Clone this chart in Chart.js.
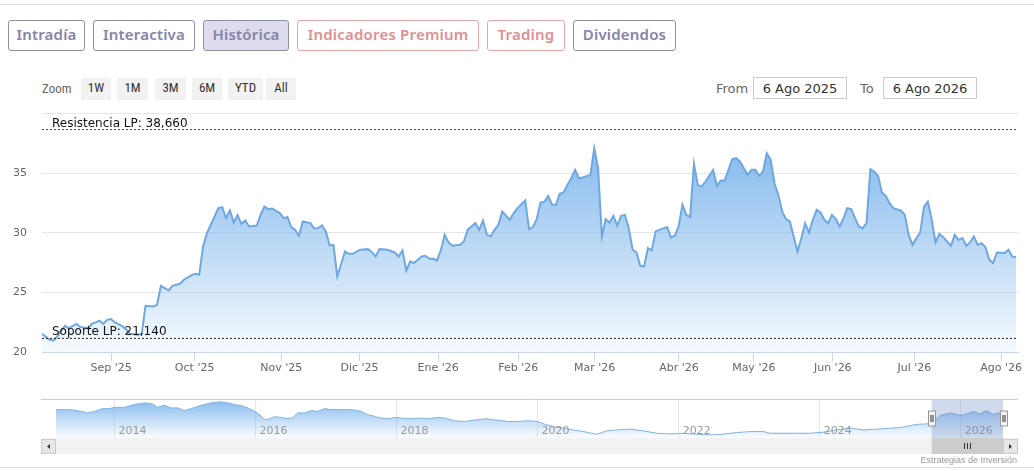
<!DOCTYPE html>
<html>
<head>
<meta charset="utf-8">
<title>Histórica</title>
<script src="https://cdn.jsdelivr.net/npm/chart.js@4.4.1/dist/chart.umd.min.js"></script>
<style>
  body { margin: 0; width: 1034px; height: 471px; position: relative; overflow: hidden; background: #fff; font-family: "DejaVu Sans", sans-serif; }
  .rule { position: absolute; left: 0; width: 1034px; height: 1px; background: #dcdcdc; }
  .tab { position: absolute; top: 20px; height: 26px; padding-top: 3px; line-height: 29px; border: 1px solid #8f8ea9; border-radius: 3px;
         font: 600 15px "Noto Sans", sans-serif; color: #8583a8; text-align: center; letter-spacing: 0.2px; overflow: hidden; }
  .tab.on { background: #dddcec; }
  .tab.premium { border-color: #e3a9a9; color: #e08f8f; }
  .zoomlbl { position: absolute; top: 80px; left: 42px; font: 13px "Liberation Sans Narrow", "Roboto Condensed", "DejaVu Sans Condensed", sans-serif; color: #666; line-height: 18px; }
  .zbtn { position: absolute; top: 78px; height: 20px; padding-top: 2px; line-height: 23px; background: #f2f2f2; text-align: center;
          font: 13px "Liberation Sans Narrow", "Roboto Condensed", "DejaVu Sans Condensed", sans-serif; color: #333; overflow: hidden; }
  .rlbl { position: absolute; top: 80px; font: 13px "DejaVu Sans", sans-serif; color: #666; line-height: 18px; }
  .rbox { position: absolute; top: 77px; width: 92px; height: 17px; padding-top: 3px; line-height: 22px; border: 1px solid #cccccc;
          text-align: center; font: 13px "DejaVu Sans", sans-serif; color: #333; overflow: hidden; }
  #mainWrap { position: absolute; left: 0; top: 92px; width: 1034px; height: 298px; }
  #navWrap { position: absolute; left: 0; top: 395px; width: 1034px; height: 63px; }
  .credit { position: absolute; right: 17px; top: 455px; font: 9px "Liberation Sans", sans-serif; color: #999; }
</style>
</head>
<body>
<div class="rule" style="top:4px"></div>

<div class="tab" style="left:8px;width:75px">Intradía</div>
<div class="tab" style="left:93px;width:100px">Interactiva</div>
<div class="tab on" style="left:203px;width:84px">Histórica</div>
<div class="tab premium" style="left:297px;width:180px">Indicadores Premium</div>
<div class="tab premium" style="left:487px;width:76px">Trading</div>
<div class="tab" style="left:573px;width:101px">Dividendos</div>

<div class="zoomlbl">Zoom</div>
<div class="zbtn" style="left:81px;width:30px">1W</div>
<div class="zbtn" style="left:117px;width:31px">1M</div>
<div class="zbtn" style="left:155px;width:31px">3M</div>
<div class="zbtn" style="left:192px;width:30px">6M</div>
<div class="zbtn" style="left:228px;width:35px">YTD</div>
<div class="zbtn" style="left:266px;width:30px">All</div>

<div class="rlbl" style="left:716px">From</div>
<div class="rbox" style="left:753px">6 Ago 2025</div>
<div class="rlbl" style="left:860px">To</div>
<div class="rbox" style="left:883px">6 Ago 2026</div>

<div id="mainWrap"><canvas id="priceChart" width="1034" height="298"></canvas></div>
<div id="navWrap"><canvas id="navChart" width="1034" height="63"></canvas></div>
<div class="credit">Estrategias de Inversión</div>
<div class="rule" style="top:467px"></div>

<script>
// daily closes, x = trading session since 6 Ago 2025
const sessions = [0, 2, 3, 4, 5, 6, 7, 9, 10, 12, 13, 14, 15, 16, 17, 18, 19, 21, 22, 23, 25, 26, 27, 29, 30,
  31, 32, 33, 34, 36, 37, 39, 40, 41, 42, 43, 44, 46, 47, 48, 49, 50, 51, 52, 53, 54, 56, 57, 58, 59, 60,
  62, 63, 64, 65, 66, 67, 68, 70, 71, 72, 73, 74, 75, 76, 77, 79, 80, 81, 83, 85, 86, 87, 88, 90,
  92, 93, 94, 95, 96, 97, 99, 100, 101, 102, 103, 104, 105, 106, 107, 109, 110, 111, 113, 114, 115, 116, 117, 118, 119, 120,
  122, 123, 124, 126, 127, 128, 129, 130, 131, 132, 133, 134, 135, 136, 137, 138, 139, 140, 141, 143, 144, 145,
  146, 147, 148, 149, 150, 151, 152, 153, 154, 155, 156, 157, 158, 159, 160, 161, 163, 164, 165, 166, 167, 168, 169,
  170, 171, 172, 173, 175, 176, 177, 178, 179, 180, 181, 182, 184, 185, 186, 187, 188, 189, 190,
  191, 192, 193, 194, 195, 196, 197, 198, 199, 200, 201, 202, 203, 204, 205, 206, 207, 208, 209, 210,
  211, 212, 213, 214, 215, 216, 217, 218, 219, 220, 221, 222, 224, 225, 226, 227, 228, 229, 230,
  231, 232, 233, 234, 235, 236, 237, 238, 239, 240, 241, 242, 243, 244, 245, 246, 247, 248, 249, 251, 252, 253, 254];
const prices = [21.53, 21.03, 20.97, 21.3, 21.8, 22.2, 22.0, 22.35, 22.1, 22.0, 22.37, 22.48, 22.62, 22.35, 22.7, 22.77, 22.48, 22.15, 21.87, 21.53, 21.45, 21.53, 23.88, 23.82, 23.96,
  25.55, 25.36, 25.16, 25.55, 25.72, 26.06, 26.45, 26.56, 26.48, 28.85, 29.97, 30.67, 32.07, 32.15, 31.23, 31.87, 30.86, 31.48, 30.75, 31.03, 30.53, 30.61, 31.5, 32.2, 31.99, 32.04,
  31.65, 31.23, 31.32, 30.48, 30.25, 29.75, 30.95, 30.81, 30.36, 30.39, 30.61, 30.11, 28.94, 28.99, 26.34, 28.43, 28.24, 28.24, 28.58, 28.63, 28.38, 28.01, 28.63, 28.58,
  28.35, 28.01, 28.52, 26.82, 27.6, 27.46, 28.01, 28.07, 27.82, 27.82, 27.68, 28.52, 29.83, 29.19, 28.91, 28.99, 29.27, 30.25, 30.81, 30.25, 31.03, 29.83, 29.69, 30.25, 30.67, 31.79,
  31.09, 31.65, 32.07, 32.71, 30.31, 30.48, 31.15, 32.54, 32.6, 33.1, 32.35, 32.35, 33.27, 33.38, 34.02, 34.58, 35.28, 34.58, 34.64, 34.86, 37.1, 35.42,
  29.69, 31.15, 30.86, 31.43, 30.59, 31.43, 31.5, 30.39, 28.58, 28.35, 27.23, 27.18, 28.72, 28.52, 30.11, 30.25, 30.48, 29.61, 29.75, 30.53, 32.35, 31.5, 31.32,
  35.78, 34.02, 33.88, 34.3, 35.28, 33.94, 34.38, 34.38, 35.28, 36.18, 36.26, 35.98, 34.86, 35.28, 35.28, 34.78, 35.14, 36.68, 36.12,
  34.16, 33.18, 31.79, 31.15, 30.95, 29.69, 28.43, 29.55, 30.81, 30.02, 31.09, 31.93, 31.7, 31.09, 30.81, 31.5, 31.15, 30.53, 31.23, 32.07,
  31.99, 31.23, 30.53, 30.39, 30.81, 35.34, 35.14, 34.78, 33.38, 33.1, 32.49, 32.07, 31.87, 31.5, 29.8, 28.99, 29.55, 30.02, 32.2,
  32.62, 31.09, 29.19, 29.92, 29.64, 29.27, 28.91, 29.83, 29.41, 29.55, 28.91, 29.19, 29.69, 28.99, 29.13, 28.8, 27.74, 27.46, 28.35, 28.3, 28.58, 28.01, 27.96];

const monthTicks = [18, 39.8, 62.4, 82.8, 103.3, 124.2, 144.1, 166.1, 185.6, 206.2, 227.5, 250.1];
const monthLabels = ["Sep '25", "Oct '25", "Nov '25", "Dic '25", "Ene '26", "Feb '26", "Mar '26", "Abr '26", "May '26", "Jun '26", "Jul '26", "Ago '26"];
const yTicks = [20, 25, 30, 35, 40];
const resistance = 38.66;
const support = 21.14;
const lastSession = 254.5;

// long history for the navigator (x = year)
const navYears = [2013.17, 2013.29, 2013.38, 2013.53, 2013.62, 2013.72, 2013.83, 2013.93, 2014.0, 2014.14, 2014.28, 2014.43, 2014.54, 2014.61,
  2014.71, 2014.8, 2014.9, 2014.99, 2015.09, 2015.23, 2015.37, 2015.49, 2015.61, 2015.7, 2015.8, 2015.89, 2015.99, 2016.06, 2016.13,
  2016.2, 2016.27, 2016.36, 2016.46, 2016.53, 2016.6, 2016.7, 2016.79, 2016.88, 2016.98, 2017.07, 2017.21, 2017.36, 2017.5, 2017.59,
  2017.69, 2017.78, 2017.88, 2017.97, 2018.07, 2018.16, 2018.3, 2018.44, 2018.59, 2018.68, 2018.82, 2018.96, 2019.11, 2019.27, 2019.41,
  2019.58, 2019.72, 2019.86, 2020.0, 2020.1, 2020.22, 2020.36, 2020.5, 2020.65, 2020.84, 2020.98, 2021.12, 2021.31, 2021.5, 2021.69,
  2021.88, 2022.07, 2022.26, 2022.44, 2022.63, 2022.82, 2023.01, 2023.2, 2023.3, 2023.48, 2023.67, 2023.86, 2024.05, 2024.24, 2024.43,
  2024.62, 2024.81, 2025.0, 2025.14, 2025.23, 2025.33, 2025.42, 2025.49, 2025.59, 2025.71, 2025.85, 2025.99, 2026.09, 2026.18, 2026.27,
  2026.37, 2026.46, 2026.53, 2026.6];
const navPrices = [38.3, 38.3, 38.3, 36.2, 34.2, 36.2, 39.6, 39.6, 41.2, 41.2, 44.7, 46.8, 45.5, 41.2,
  43.8, 40.5, 40.5, 37.1, 39.6, 43.8, 46.8, 48.1, 46.8, 44.7, 43.4, 40.5, 36.2, 32.0, 25.7,
  26.9, 29.5, 28.6, 26.9, 28.6, 34.2, 34.2, 37.1, 36.2, 39.6, 38.3, 38.3, 38.3, 36.2, 32.0,
  29.9, 27.8, 26.9, 28.6, 27.8, 26.9, 27.8, 26.9, 28.6, 27.8, 24.4, 23.5, 25.3, 26.9, 25.3,
  23.5, 23.5, 24.4, 23.5, 20.2, 17.2, 15.2, 13.0, 10.9, 7.6, 11.8, 13.0, 13.9, 11.8, 8.8,
  8.0, 8.8, 7.6, 6.7, 7.6, 9.6, 10.9, 10.9, 8.8, 8.8, 8.8, 8.8, 10.1, 13.0, 15.2,
  13.0, 13.9, 15.2, 15.9, 17.2, 19.3, 20.2, 20.2, 21.5, 31.1, 34.2, 31.1, 32.9, 36.2, 32.9,
  37.1, 32.0, 34.2, 32.9];
const navYearTicks = [2014, 2016, 2018, 2020, 2022, 2024, 2026];
const rangeStart = 2025.59;
const rangeEnd = 2026.6;

const fmtLevel = v => v.toFixed(3).replace('.', ',');

function areaFill(context) {
  const chart = context.chart;
  const area = chart.chartArea;
  if (!area) return 'rgba(124,181,236,0.5)';
  const top = chart.scales.y.getPixelForValue(Math.max(...prices));
  const g = chart.ctx.createLinearGradient(0, top, 0, area.bottom);
  g.addColorStop(0, 'rgba(124,181,236,0.92)');
  g.addColorStop(1, 'rgba(124,181,236,0.07)');
  return g;
}

const levelLabels = {
  id: 'levelLabels',
  afterDatasetsDraw(chart) {
    const { ctx, chartArea, scales } = chart;
    ctx.save();
    ctx.font = '12px "DejaVu Sans", sans-serif';
    ctx.fillStyle = '#111';
    ctx.textBaseline = 'alphabetic';
    ctx.fillText('Resistencia LP: ' + fmtLevel(resistance), chartArea.left + 10, scales.y.getPixelForValue(resistance) - 3);
    ctx.fillText('Soporte LP: ' + fmtLevel(support), chartArea.left + 10, scales.y.getPixelForValue(support) - 3);
    ctx.restore();
  }
};

new Chart(document.getElementById('priceChart'), {
  type: 'line',
  data: {
    datasets: [
      {
        data: sessions.map((s, i) => ({ x: s, y: prices[i] })),
        borderColor: '#6ea8de',
        borderWidth: 2,
        pointRadius: 0,
        tension: 0,
        fill: 'start',
        backgroundColor: areaFill
      },
      {
        data: [{ x: 0, y: resistance }, { x: lastSession, y: resistance }],
        borderColor: '#24542a',
        borderWidth: 1,
        borderDash: [2, 2],
        pointRadius: 0,
        fill: false,
        order: -1
      },
      {
        data: [{ x: 0, y: support }, { x: lastSession, y: support }],
        borderColor: '#3a1a1a',
        borderWidth: 1,
        borderDash: [2, 2],
        pointRadius: 0,
        fill: false,
        order: -1
      }
    ]
  },
  options: {
    responsive: false,
    animation: false,
    layout: { padding: { left: 0, right: 16, top: 5, bottom: 0 } },
    plugins: { legend: { display: false }, tooltip: { enabled: false } },
    scales: {
      x: {
        type: 'linear',
        min: 0,
        max: lastSession,
        afterBuildTicks: scale => { scale.ticks = monthTicks.map(v => ({ value: v })); },
        afterFit: scale => { scale.height = 38; },
        ticks: {
          autoSkip: false,
          maxRotation: 0,
          padding: 1,
          color: '#666',
          font: { family: 'DejaVu Sans', size: 11 },
          callback: (v, i) => monthLabels[i]
        },
        grid: { drawOnChartArea: false, drawTicks: true, tickLength: 9, color: '#ccd6eb' },
        border: { display: true, color: '#ccd6eb' }
      },
      y: {
        min: 20,
        max: 40,
        afterBuildTicks: scale => { scale.ticks = yTicks.map(v => ({ value: v })); },
        afterFit: scale => { scale.width = 42; },
        ticks: {
          padding: 15,
          color: '#666',
          font: { family: 'DejaVu Sans', size: 11 },
          callback: v => (v === 40 ? '' : v)
        },
        grid: { color: '#e6e6e6', drawTicks: false },
        border: { display: false }
      }
    }
  },
  plugins: [levelLabels]
});

const navigatorParts = {
  id: 'navigatorParts',
  afterDatasetsDraw(chart) {
    const { ctx, chartArea: a, scales } = chart;
    const x0 = scales.x.getPixelForValue(rangeStart);
    const x1 = scales.x.getPixelForValue(rangeEnd);
    ctx.save();
    // year labels
    ctx.font = '11px "DejaVu Sans", sans-serif';
    ctx.fillStyle = '#999';
    ctx.textBaseline = 'alphabetic';
    navYearTicks.forEach(yr => ctx.fillText(String(yr), scales.x.getPixelForValue(yr) + 4, a.bottom - 4));
    // selected range mask
    ctx.fillStyle = 'rgba(102,133,194,0.3)';
    ctx.fillRect(x0, a.top, x1 - x0, a.bottom - a.top);
    // outline on top
    ctx.strokeStyle = '#cccccc';
    ctx.lineWidth = 1;
    ctx.beginPath();
    ctx.moveTo(a.left - 15, a.top + 0.5);
    ctx.lineTo(a.right + 15, a.top + 0.5);
    ctx.stroke();
    // scrollbar track and buttons
    const sTop = a.bottom, sH = 16;
    ctx.fillStyle = '#f2f2f2';
    ctx.fillRect(a.left - 15, sTop, a.right - a.left + 30, sH);
    ctx.fillStyle = '#e6e6e6';
    ctx.strokeStyle = '#cccccc';
    [[a.left - 15], [a.right]].forEach(([bx]) => {
      ctx.fillRect(bx, sTop + 1, 14, sH - 1);
      ctx.strokeRect(bx + 0.5, sTop + 1.5, 14, sH - 2);
    });
    ctx.fillStyle = '#333';
    ctx.beginPath();
    ctx.moveTo(a.left - 6, sTop + 6); ctx.lineTo(a.left - 6, sTop + 11); ctx.lineTo(a.left - 9, sTop + 8.5); ctx.fill();
    ctx.beginPath();
    ctx.moveTo(a.right + 6, sTop + 6); ctx.lineTo(a.right + 6, sTop + 11); ctx.lineTo(a.right + 9, sTop + 8.5); ctx.fill();
    // thumb
    ctx.fillStyle = '#cccccc';
    ctx.fillRect(x0, sTop, x1 - x0, sH);
    ctx.strokeStyle = '#333';
    const cx = Math.round((x0 + x1) / 2) + 0.5;
    [-3, 0, 3].forEach(d => { ctx.beginPath(); ctx.moveTo(cx + d, sTop + 5); ctx.lineTo(cx + d, sTop + 11); ctx.stroke(); });
    // handles
    const hy = a.top + 12;
    [x0, x1].forEach(hx => {
      const left = Math.round(hx - 3.5) + 0.5;
      ctx.fillStyle = '#f2f2f2';
      ctx.strokeStyle = '#999';
      ctx.fillRect(left, hy, 7, 15);
      ctx.strokeRect(left, hy, 7, 15);
      ctx.strokeStyle = '#333';
      ctx.beginPath();
      ctx.moveTo(left + 2.5, hy + 4); ctx.lineTo(left + 2.5, hy + 11);
      ctx.moveTo(left + 4.5, hy + 4); ctx.lineTo(left + 4.5, hy + 11);
      ctx.stroke();
    });
    ctx.restore();
  }
};

new Chart(document.getElementById('navChart'), {
  type: 'line',
  data: {
    datasets: [{
      data: navYears.map((yr, i) => ({ x: yr, y: navPrices[i] })),
      borderColor: '#7fb2e3',
      borderWidth: 1,
      pointRadius: 0,
      tension: 0,
      fill: 'start',
      backgroundColor: context => {
        const area = context.chart.chartArea;
        if (!area) return 'rgba(124,181,236,0.4)';
        const g = context.chart.ctx.createLinearGradient(0, area.top, 0, area.bottom);
        g.addColorStop(0, 'rgba(124,181,236,0.95)');
        g.addColorStop(1, 'rgba(124,181,236,0.03)');
        return g;
      }
    }]
  },
  options: {
    responsive: false,
    animation: false,
    layout: { padding: { left: 56, right: 31, top: 4, bottom: 20 } },
    plugins: { legend: { display: false }, tooltip: { enabled: false } },
    scales: {
      x: {
        type: 'linear',
        min: 2013.17,
        max: rangeEnd,
        afterBuildTicks: scale => { scale.ticks = navYearTicks.map(v => ({ value: v })); },
        afterFit: scale => { scale.height = 0; },
        ticks: { display: false },
        grid: { color: '#e6e6e6', drawTicks: false },
        border: { display: false }
      },
      y: { display: false, min: 2.9, max: 51.6 }
    }
  },
  plugins: [navigatorParts]
});
</script>
</body>
</html>
